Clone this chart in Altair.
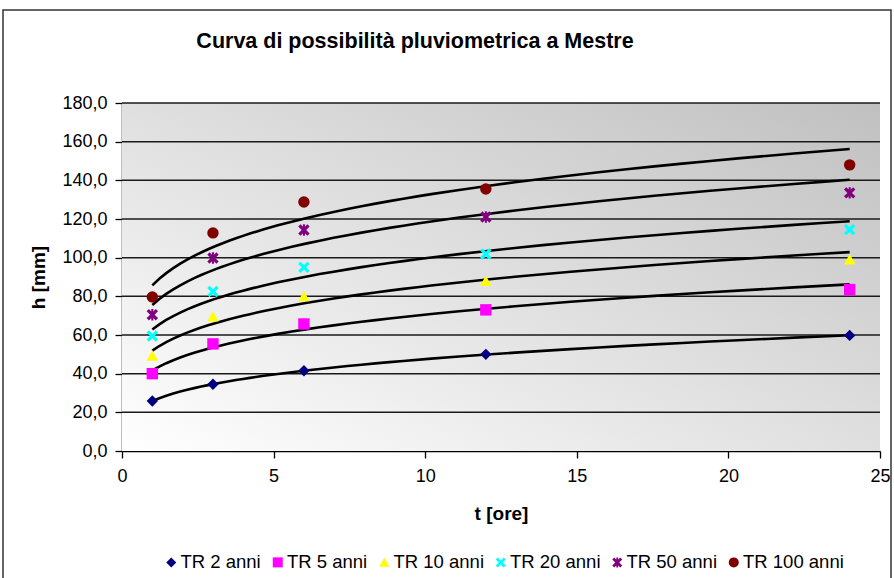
import altair as alt
import pandas as pd

# ---- data ----
t_ore = [1, 3, 6, 12, 24]
serie = ["TR 2 anni", "TR 5 anni", "TR 10 anni", "TR 20 anni", "TR 50 anni", "TR 100 anni"]
tr2 = [25.9, 34.5, 41.5, 50.0, 59.8]
tr5 = [40.0, 55.4, 65.7, 73.0, 83.5]
tr10 = [49.2, 69.5, 80.0, 87.8, 99.0]
tr20 = [59.5, 82.5, 95.0, 101.9, 114.5]
tr50 = [70.5, 99.8, 114.3, 121.0, 133.5]
tr100 = [79.7, 112.8, 128.8, 135.5, 148.0]
y_ticks = [0, 20, 40, 60, 80, 100, 120, 140, 160, 180]
x_ticks = [0, 5, 10, 15, 20, 25]

colori = ["#000080", "#ff00ff", "#ffff00", "#00ffff", "#800080", "#800000"]
shape_tri = "M0,-1L1,0.85L-1,0.85Z"
shape_x = "M-1,-0.6L-0.6,-1L0,-0.4L0.6,-1L1,-0.6L0.4,0L1,0.6L0.6,1L0,0.4L-0.6,1L-1,0.6L-0.4,0Z"
shape_star = shape_x + "M-0.18,-1L0.18,-1L0.18,1L-0.18,1Z"
forme = ["diamond", "square", shape_tri, shape_x, shape_star, "circle"]

rows = []
for name, vals in zip(serie, [tr2, tr5, tr10, tr20, tr50, tr100]):
    for t, h in zip(t_ore, vals):
        rows.append({"serie": name, "t": t, "h": h})
df = pd.DataFrame(rows)

W, H = 758, 348
FONT = "Liberation Sans"

x_scale = alt.Scale(domain=[0, 25], nice=False)
y_scale = alt.Scale(domain=[0, 180], nice=False)

x_axis = alt.Axis(values=x_ticks, title="t [ore]", grid=False, labelFlush=False,
                  titleY=53, titleBaseline="top")
y_axis = alt.Axis(values=y_ticks, title="h [mm]", grid=False,
                  labelExpr="replace(format(datum.value, '.1f'), '.', ',')",
                  titleX=-74, titleY=H / 2)

x_enc = alt.X("t:Q", scale=x_scale, axis=x_axis)
y_enc = alt.Y("h:Q", scale=y_scale, axis=y_axis)

base = alt.Chart(df)

sfondo = alt.Chart(pd.DataFrame({"k": [0]})).mark_rect(
    fill=alt.Gradient(gradient="linear", x1=1, y1=0, x2=0, y2=1,
                      stops=[alt.GradientStop(color="#c0c0c0", offset=0),
                             alt.GradientStop(color="#ffffff", offset=1)]),
    strokeWidth=0,
).encode(x=alt.value(0), x2=alt.value(W), y=alt.value(0), y2=alt.value(H))

griglia = alt.Chart(pd.DataFrame({"h": y_ticks[1:]})).mark_rule(
    color="#1a1a1a", strokeWidth=1.5
).encode(y=y_enc)

curves = base.transform_regression(
    "t", "h", method="pow", groupby=["serie"]
).mark_line(color="black", strokeWidth=2.6).encode(
    x=x_enc, y=y_enc, detail="serie:N"
)

points = base.mark_point(filled=True, size=130, opacity=1, strokeWidth=0).encode(
    x=x_enc, y=y_enc,
    color=alt.Color("serie:N", scale=alt.Scale(domain=serie, range=colori),
                    sort=serie, legend=alt.Legend(title=None)),
    shape=alt.Shape("serie:N", scale=alt.Scale(domain=serie, range=forme),
                    sort=serie, legend=alt.Legend(title=None)),
)

border = alt.Chart(pd.DataFrame({"k": [0]})).mark_rect(
    fill=None, stroke="#333333", strokeWidth=1.5
).encode(x=alt.value(-119), x2=alt.value(769), y=alt.value(-93), y2=alt.value(495))

title = alt.Chart(pd.DataFrame({"titolo": ["Curva di possibilità pluviometrica a Mestre"]})).mark_text(
    font=FONT, fontSize=21.5, fontWeight="bold", align="center", baseline="middle", color="black"
).encode(text="titolo:N", x=alt.value(293), y=alt.value(-61))

chart = alt.layer(sfondo, griglia, border, curves, points, title).properties(
    width=W, height=H,
    autosize=alt.AutoSizeParams(type="none"),
    padding={"left": 122, "top": 103, "right": 14, "bottom": 127},
).configure_view(
    strokeWidth=0,
).configure_axis(
    labelFont=FONT, labelFontSize=18, labelColor="black",
    titleFont=FONT, titleFontSize=19, titleFontWeight="bold", titleColor="black",
    domainColor="black", domainWidth=1.5, tickColor="black", tickSize=7, tickWidth=1.3,
    labelPadding=8, zindex=1,
).configure_axisX(labelPadding=9).configure_legend(
    orient="none", legendX=40, legendY=450, direction="horizontal",
    labelFont=FONT, labelFontSize=18.5, labelColor="black", symbolSize=100,
    symbolStrokeWidth=0, columnPadding=7.5, labelOffset=0, padding=0,
)

chart.save("out.html", embed_options={"renderer": "svg", "actions": False})
